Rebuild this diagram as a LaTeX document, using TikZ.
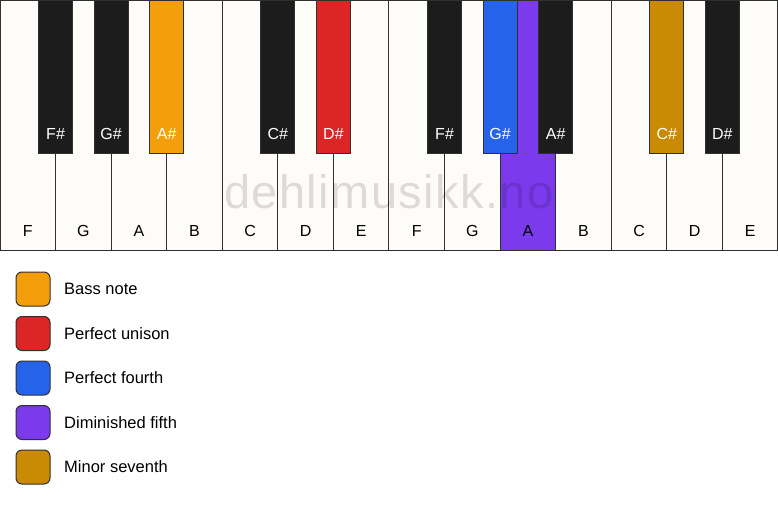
\documentclass[tikz,border=0pt]{standalone}
\usepackage{fontspec}
\setmainfont{Liberation Sans}
\newfontfamily\markfont[LetterSpace=3]{Liberation Sans}
\usepackage{tikz}
\usepackage{xcolor}
\usetikzlibrary{positioning}

\definecolor{keywhite}{RGB}{253,252,248}
\definecolor{keyblack}{RGB}{28,28,28}
\definecolor{keyline}{RGB}{48,48,48}
\definecolor{bass}{RGB}{245,158,11}
\definecolor{unison}{RGB}{220,38,38}
\definecolor{fourth}{RGB}{37,99,235}
\definecolor{dimfifth}{RGB}{124,58,237}
\definecolor{minseventh}{RGB}{202,138,4}

\begin{document}
\begin{tikzpicture}[
        x=1pt, y=-1pt,
        wkey/.style={rectangle, draw=keyline, fill=keywhite, line width=1pt,
                     minimum width=55.57pt, inner sep=0pt, outer sep=0pt,
                     text height=236pt, text depth=14pt, anchor=north west,
                     font=\fontsize{16}{19}\selectfont},
        bkey/.style={rectangle, draw=keyline, fill=keyblack, text=white, line width=1pt,
                     minimum width=34pt, inner sep=0pt, outer sep=0pt,
                     text height=139pt, text depth=14pt, anchor=north,
                     font=\fontsize{16}{19}\selectfont},
        swatch/.style={rectangle, draw=keyline, line width=1pt, rounded corners=6pt,
                       minimum size=34pt, inner sep=0pt, outer sep=0pt},
        legend/.style={inner sep=0pt, font=\fontsize{16.5}{19}\selectfont},
        watermark/.style={anchor=base, inner sep=0pt, text=black, text opacity=0.13,
                          font=\markfont\fontsize{47}{50}\selectfont}
    ]
    \useasboundingbox (0,0) rectangle (778,506);
    \fill[white] (0,0) rectangle (778,506);

    % White keys
    \node [wkey] (f1) at (0,0) {F};
    \node [wkey, right=0pt of f1] (g1) {G};
    \node [wkey, right=0pt of g1] (a1) {A};
    \node [wkey, right=0pt of a1] (b1) {B};
    \node [wkey, right=0pt of b1] (c1) {C};
    \node [wkey, right=0pt of c1] (d1) {D};
    \node [wkey, right=0pt of d1] (e1) {E};
    \node [wkey, right=0pt of e1] (f2) {F};
    \node [wkey, right=0pt of f2] (g2) {G};
    \node [wkey, right=0pt of g2, fill=dimfifth] (a2) {A};
    \node [wkey, right=0pt of a2] (b2) {B};
    \node [wkey, right=0pt of b2] (c2) {C};
    \node [wkey, right=0pt of c2] (d2) {D};
    \node [wkey, right=0pt of d2] (e2) {E};

    % Black keys
    \node [bkey] (fs1) at (f1.north east) {F\#};
    \node [bkey] (gs1) at (g1.north east) {G\#};
    \node [bkey, fill=bass] (as1) at (a1.north east) {A\#};
    \node [bkey] (cs1) at (c1.north east) {C\#};
    \node [bkey, fill=unison] (ds1) at (d1.north east) {D\#};
    \node [bkey] (fs2) at (f2.north east) {F\#};
    \node [bkey, fill=fourth] (gs2) at (g2.north east) {G\#};
    \node [bkey] (as2) at (a2.north east) {A\#};
    \node [bkey, fill=minseventh] (cs2) at (c2.north east) {C\#};
    \node [bkey] (ds2) at (d2.north east) {D\#};

    \node [watermark] (mark) at (389,208) {dehlimusikk.no};

    % Legend
    \node [swatch, fill=bass] (sw1) at (33,289) {};
    \node [swatch, fill=unison, below=10.5pt of sw1] (sw2) {};
    \node [swatch, fill=fourth, below=10.5pt of sw2] (sw3) {};
    \node [swatch, fill=dimfifth, below=10.5pt of sw3] (sw4) {};
    \node [swatch, fill=minseventh, below=10.5pt of sw4] (sw5) {};
    \node [legend, right=14pt of sw1] (lg1) {Bass note};
    \node [legend, right=14pt of sw2] (lg2) {Perfect unison};
    \node [legend, right=14pt of sw3] (lg3) {Perfect fourth};
    \node [legend, right=14pt of sw4] (lg4) {Diminished fifth};
    \node [legend, right=14pt of sw5] (lg5) {Minor seventh};
\end{tikzpicture}
\end{document}
